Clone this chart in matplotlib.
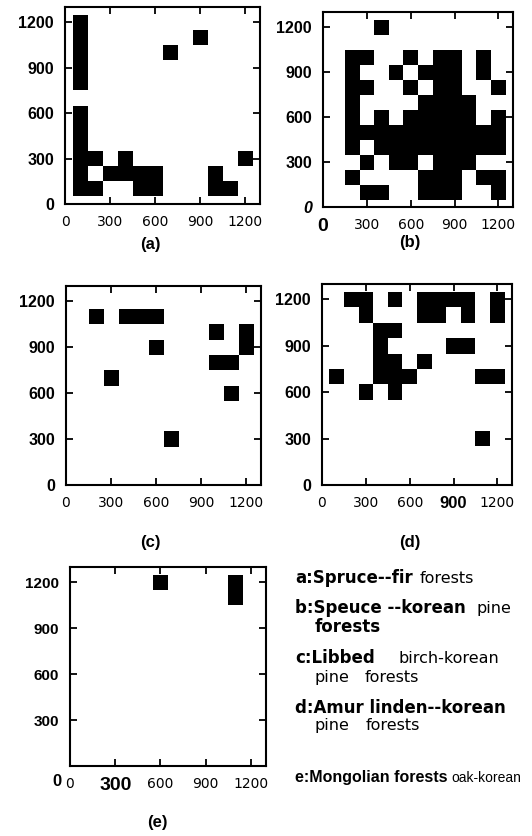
import numpy as np
import matplotlib
matplotlib.use("Agg")
import matplotlib.pyplot as plt
from matplotlib.colors import ListedColormap

# filled 100 m cells, {row centre: [column centres]}
cells_a = {
    1200: [100], 1100: [100, 900], 1000: [100, 700], 900: [100], 800: [100],
    600: [100], 500: [100], 400: [100],
    300: [100, 200, 400, 1200],
    200: [100, 300, 400, 500, 600, 1000],
    100: [100, 200, 500, 600, 1000, 1100],
}
cells_b = {
    1200: [400],
    1000: [200, 300, 600, 800, 900, 1100],
    900: [200, 500, 700, 800, 900, 1100],
    800: [200, 300, 600, 800, 900, 1200],
    700: [200, 700, 800, 900, 1000],
    600: [200, 400, 600, 700, 800, 900, 1000, 1200],
    500: [200, 300, 400, 500, 600, 700, 800, 900, 1000, 1100, 1200],
    400: [200, 400, 500, 600, 700, 800, 900, 1000, 1100, 1200],
    300: [300, 500, 600, 800, 900, 1000],
    200: [200, 700, 800, 900, 1100, 1200],
    100: [300, 400, 700, 800, 900, 1200],
}
cells_c = {
    1100: [200, 400, 500, 600], 1000: [1000, 1200], 900: [600, 1200],
    800: [1000, 1100], 700: [300], 600: [1100], 300: [700],
}
cells_d = {
    1200: [200, 300, 500, 700, 800, 900, 1000, 1200],
    1100: [300, 700, 800, 1000, 1200],
    1000: [400, 500],
    900: [400, 900, 1000],
    800: [400, 500, 700],
    700: [100, 400, 500, 600, 1100, 1200],
    600: [300, 500],
    300: [1100],
}
cells_e = {1200: [600, 1100], 1100: [1100]}

ticks = [0, 300, 600, 900, 1200]
tick_labels = ["0", "300", "600", "900", "1200"]
captions = ["(a)", "(b)", "(c)", "(d)", "(e)"]
# legend pieces: (text, x px, y px, bold)
legend_parts = [
    ("a:Spruce--fir", 295, 583, True), ("forests", 420, 583, False),
    ("b:Speuce --korean", 295, 613, True), ("pine", 477, 613, False),
    ("forests", 315, 632, True),
    ("c:Libbed", 295, 663, True), ("birch-korean", 398, 663, False),
    ("pine", 315, 682, False), ("forests", 365, 682, False),
    ("d:Amur linden--korean", 295, 713, True),
    ("pine", 315, 730, False), ("forests", 366, 730, False),
]

plt.rcParams["font.family"] = ["Liberation Sans", "DejaVu Sans"]
W, H = 532, 836
fig = plt.figure(figsize=(W / 100, H / 100), dpi=100)


def box(l, r, t, b):
    return [l / W, 1 - b / H, (r - l) / W, (b - t) / H]


def fx(x, y):
    return x / W, 1 - y / H


def draw_panel(rect, cells):
    ax = fig.add_axes(rect)
    grid = np.zeros((12, 12))
    for y, xs in cells.items():
        for x in xs:
            grid[y // 100 - 1, x // 100 - 1] = 1
    edges = np.arange(50, 1251, 100)
    ax.pcolormesh(edges, edges, np.ma.masked_equal(grid, 0),
                  cmap=ListedColormap(["black"]), vmin=0, vmax=1)
    ax.set_xlim(0, 1300)
    ax.set_ylim(0, 1300)
    ax.set_xticks(ticks)
    ax.set_xticklabels(tick_labels, family="DejaVu Sans", fontsize=10)
    ax.set_yticks(ticks)
    ax.set_yticklabels(tick_labels, fontsize=11.5, weight="bold")
    ax.tick_params(direction="in", length=5, width=1.3, top=True, right=True,
                   pad=8)
    for s in ax.spines.values():
        s.set_linewidth(1.5)
    return ax


ax_a = draw_panel(box(65, 260, 7, 204), cells_a)
ax_b = draw_panel(box(323, 513, 12, 207), cells_b)
ax_c = draw_panel(box(66, 261, 286, 485), cells_c)
ax_d = draw_panel(box(322, 512, 284, 485), cells_d)
ax_e = draw_panel(box(70, 266, 567, 766), cells_e)

# odd label styles from the scan
ax_b.get_xticklabels()[0].set(fontsize=14, weight="bold", family="Liberation Sans")
ax_b.get_yticklabels()[0].set(style="italic")
ax_d.get_xticklabels()[3].set(fontsize=12, weight="bold", family="Liberation Sans")
ax_e.set_yticks(ticks[1:])
ax_e.set_yticklabels(tick_labels[1:], fontsize=11)
ax_e.get_yticklabels()[1].set(weight="bold")
ax_e.get_xticklabels()[1].set(fontsize=14, weight="bold", family="Liberation Sans")
fig.text(*fx(57, 782), "0", fontsize=12, weight="bold", ha="center", va="center")

for cap, (x, y) in zip(captions, [(150, 245), (410, 243), (150, 542),
                                  (410, 542), (157, 823)]):
    fig.text(*fx(x, y), cap, fontsize=12, weight="bold", ha="center", va="center")

for txt, x, y, bold in legend_parts:
    fig.text(*fx(x, y), txt, fontsize=12 if bold else 11.5,
             weight="bold" if bold else "normal", family="DejaVu Sans",
             va="baseline")

# line e is over-printed in the scan
fig.text(*fx(295, 782), "e:Mongolian forests", fontsize=11.5, weight="bold",
         va="baseline")
fig.text(*fx(451, 782), "oak-korean", fontsize=10, va="baseline")

fig.savefig("out.png", dpi=100)
